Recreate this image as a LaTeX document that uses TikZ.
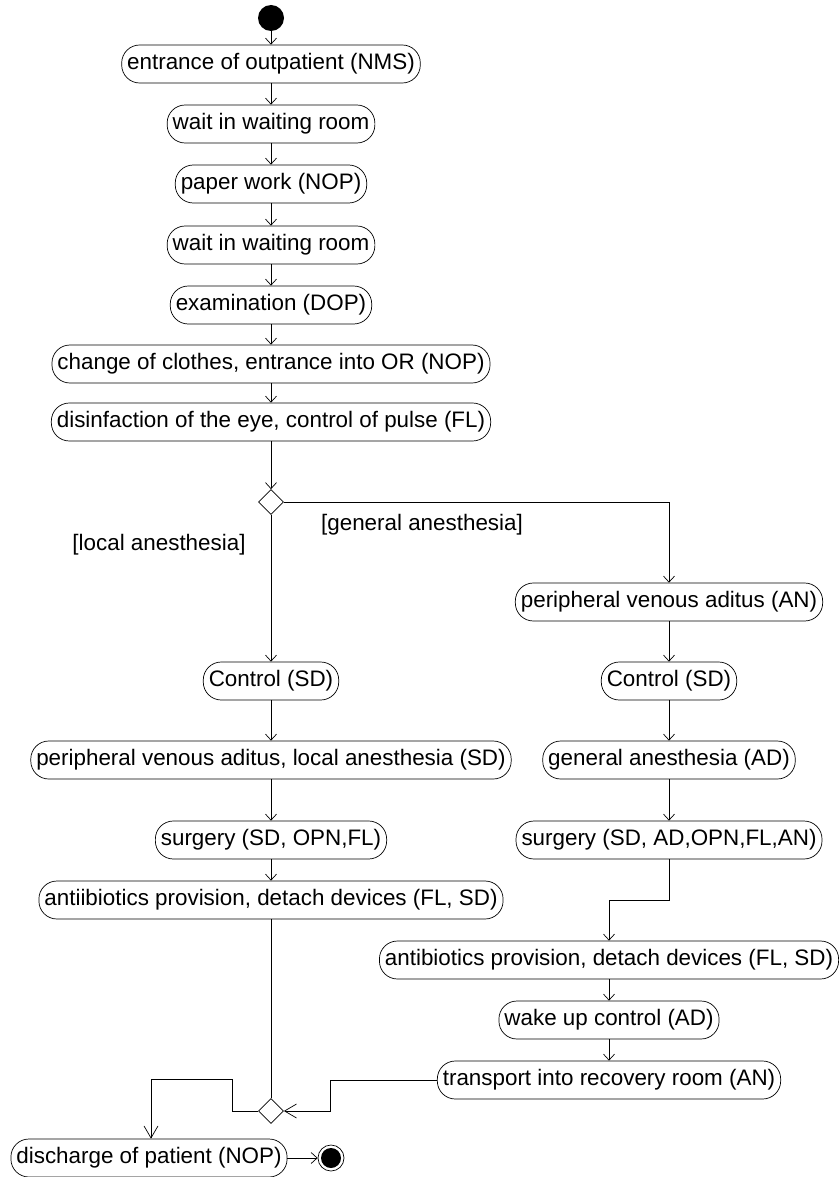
\documentclass[tikz,border=0pt]{standalone}
\usepackage{fontspec}
\setmainfont{Liberation Sans}
\usepackage{tikz}
\usetikzlibrary{arrows.meta,shapes.geometric}

\begin{document}
\begin{tikzpicture}[x=1pt,y=-1pt,
    act/.style={draw,rectangle,rounded corners=18pt,minimum height=38pt,inner xsep=5.5pt,inner ysep=0pt,font=\fontsize{22.4}{27}\selectfont},
    lbl/.style={inner sep=0pt,font=\fontsize{22.4}{27}\selectfont},
    flow/.style={-{Straight Barb[length=6pt,width=11pt]}},
    mergeflow/.style={-{Straight Barb[length=12pt,width=14pt]}},
    choice/.style={draw,diamond,aspect=1,inner sep=0pt,minimum width=25pt,minimum height=25pt},
    every path/.style={line width=0.7pt}]
    \useasboundingbox (0,0) rectangle (839,1177);

    \node (start) [circle,fill=black,minimum size=26pt,inner sep=0pt] at (271,18) {};
    \node (entr) [act] at (271,64) {entrance of outpatient (NMS)};
    \node (wait1) [act] at (271,124) {wait in waiting room};
    \node (paper) [act] at (271,184) {paper work (NOP)};
    \node (wait2) [act] at (271,245) {wait in waiting room};
    \node (exam) [act] at (271,305) {examination (DOP)};
    \node (chg) [act] at (271,364) {change of clothes, entrance into OR (NOP)};
    \node (disf) [act] at (271,422) {disinfaction of the eye, control of pulse (FL)};
    \node (dec) [choice] at (271,502) {};

    \node (lblGen) [lbl] at (422,525) {[general anesthesia]};
    \node (lblLoc) [lbl] at (159,545) {[local anesthesia]};

    \node (ctrlL) [act] at (271,681) {Control (SD)};
    \node (pvaL) [act] at (271,760) {peripheral venous aditus, local anesthesia (SD)};
    \node (surgL) [act] at (271,840) {surgery (SD, OPN,FL)};
    \node (antL) [act] at (271,900) {antiibiotics provision, detach devices (FL, SD)};

    \node (pvaAN) [act] at (669,602) {peripheral venous aditus (AN)};
    \node (ctrlR) [act] at (669,681) {Control (SD)};
    \node (genAD) [act] at (669,760) {general anesthesia (AD)};
    \node (surgR) [act] at (669,840) {surgery (SD, AD,OPN,FL,AN)};
    \node (antR) [act] at (609,960) {antibiotics provision, detach devices (FL, SD)};
    \node (wake) [act] at (609,1020) {wake up control (AD)};
    \node (trans) [act] at (609,1080) {transport into recovery room (AN)};

    \node (merge) [choice] at (271,1111) {};
    \node (disch) [act] at (149,1158) {discharge of patient (NOP)};
    \node (fin) [circle,draw,minimum size=26pt,inner sep=0pt] at (331,1158) {};
    \fill (fin.center) circle (10pt);

    \coordinate (kinkR) at (609,900);
    \coordinate (kinkT) at (330,1080);
    \coordinate (kinkA) at (232,1079);
    \coordinate (kinkB) at (151,1079);

    \draw[flow] (start) -- (entr);
    \draw[flow] (entr) -- (wait1);
    \draw[flow] (wait1) -- (paper);
    \draw[flow] (paper) -- (wait2);
    \draw[flow] (wait2) -- (exam);
    \draw[flow] (exam) -- (chg);
    \draw[flow] (chg) -- (disf);
    \draw[flow] (disf) -- (dec.north);

    \draw[flow] (dec.south) -- (ctrlL);
    \draw[flow] (dec.east) -| (pvaAN.north);

    \draw[flow] (ctrlL) -- (pvaL);
    \draw[flow] (pvaL) -- (surgL);
    \draw[flow] (surgL) -- (antL);
    \draw (antL.south) -- (merge.north);

    \draw[flow] (pvaAN) -- (ctrlR);
    \draw[flow] (ctrlR) -- (genAD);
    \draw[flow] (genAD) -- (surgR);
    \draw[flow] (surgR.south) |- (kinkR) -- (antR.north);
    \draw[flow] (antR) -- (wake);
    \draw[flow] (wake) -- (trans);

    \draw[mergeflow] (trans.west) -- (kinkT) |- (merge.east);
    \draw[mergeflow] (merge.west) -| (kinkA) -- (kinkB) -- (kinkB |- disch.north);
    \draw[flow] (disch) -- (fin);
\end{tikzpicture}
\end{document}
